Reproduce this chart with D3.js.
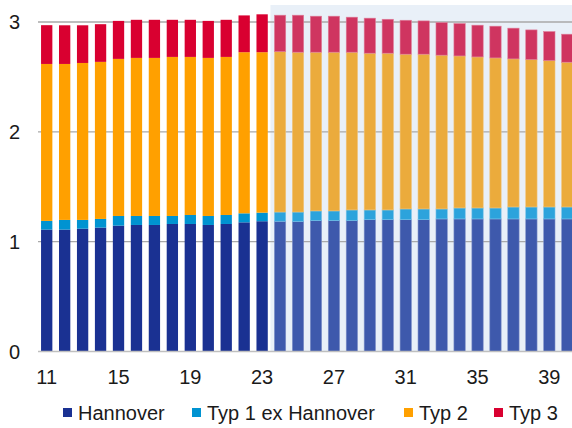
<!DOCTYPE html>
<html>
<head>
<meta charset="utf-8">
<script src="https://cdn.jsdelivr.net/npm/d3@7/dist/d3.min.js"></script>
<style>
  html, body { margin: 0; padding: 0; background: #ffffff; }
  svg { display: block; font-family: "Liberation Sans", Arial, sans-serif; }
</style>
</head>
<body>
<svg id="chart" width="572" height="428"></svg>
<script>
// Years (two-digit), 2011–2040
const years = ["11","12","13","14","15","16","17","18","19","20","21","22","23","24","25",
               "26","27","28","29","30","31","32","33","34","35","36","37","38","39","40"];

// Series values
const hannover = [1.110,1.110,1.118,1.128,1.146,1.152,1.152,1.161,1.161,1.152,1.161,1.176,1.186,1.186,1.183,
                  1.191,1.191,1.191,1.200,1.200,1.200,1.200,1.207,1.207,1.207,1.207,1.207,1.207,1.207,1.207];
const typ1ExHannover = [0.079,0.088,0.080,0.079,0.088,0.082,0.082,0.073,0.082,0.082,0.082,0.082,0.078,0.084,0.087,
                        0.089,0.089,0.098,0.089,0.089,0.098,0.098,0.091,0.100,0.100,0.100,0.109,0.109,0.109,0.109];
const typ2 = [1.429,1.420,1.429,1.430,1.430,1.439,1.439,1.448,1.439,1.439,1.439,1.467,1.461,1.460,1.455,
              1.445,1.445,1.436,1.427,1.427,1.409,1.409,1.400,1.384,1.375,1.366,1.348,1.342,1.333,1.318];
const typ3 = [0.353,0.352,0.343,0.343,0.346,0.347,0.347,0.338,0.338,0.337,0.338,0.335,0.345,0.332,0.337,
              0.328,0.328,0.319,0.319,0.309,0.309,0.303,0.297,0.295,0.289,0.289,0.280,0.270,0.264,0.255];

const seriesNames = ["Hannover", "Typ 1 ex Hannover", "Typ 2", "Typ 3"];
const firstForecastYear = "24";

const yTicks = [0, 1, 2, 3];
const xTickLabels = ["11","15","19","23","27","31","35","39"];

// Colours: actuals and the paler forecast shade
const colors     = ["#1a3192", "#0093d1", "#ffa000", "#d90030"];
const fadeColors = ["#3e59ac", "#2ca3dc", "#ebab3c", "#cf3560"];
const fadeEdges  = ["#7e90c8", "#79c3e8", "#f1c47a", "#df7e9a"];

const rows = years.map((yr, i) => ({
  year: yr,
  "Hannover": hannover[i],
  "Typ 1 ex Hannover": typ1ExHannover[i],
  "Typ 2": typ2[i],
  "Typ 3": typ3[i]
}));

const svg = d3.select("#chart");

const x = d3.scaleBand()
  .domain(years)
  .range([38, 576])
  .paddingInner(0.37)
  .paddingOuter(0.17);

const y = d3.scaleLinear()
  .domain([0, 3])
  .range([351.5, 22]);

const forecastIdx = years.indexOf(firstForecastYear);

// Forecast shading
const shadeX = x(firstForecastYear) - x.step() * 0.22;
svg.append("rect")
  .attr("x", shadeX)
  .attr("y", 5)
  .attr("width", 572 - shadeX)
  .attr("height", y(0) - 5)
  .attr("fill", "#e9f0f8");

// Gridlines
svg.append("g")
  .selectAll("line")
  .data(yTicks.filter(d => d > 0))
  .join("line")
  .attr("x1", 38)
  .attr("x2", 572)
  .attr("y1", d => y(d))
  .attr("y2", d => y(d))
  .attr("stroke", "#a9a9a9")
  .attr("stroke-width", 1.3);

// Stacked bars
const stacked = d3.stack().keys(seriesNames)(rows);

svg.append("g")
  .selectAll("g")
  .data(stacked)
  .join("g")
  .each(function(layer, li) {
    d3.select(this)
      .selectAll("rect")
      .data(layer)
      .join("rect")
      .attr("x", d => x(d.data.year))
      .attr("width", x.bandwidth())
      .attr("y", d => y(d[1]))
      .attr("height", d => y(d[0]) - y(d[1]))
      .attr("fill", (d, i) => i >= forecastIdx ? fadeColors[li] : colors[li])
      .attr("stroke", (d, i) => i >= forecastIdx ? fadeEdges[li] : "none")
      .attr("stroke-width", 0.6);
  });

// Baseline
svg.append("line")
  .attr("x1", 38)
  .attr("x2", 572)
  .attr("y1", y(0))
  .attr("y2", y(0))
  .attr("stroke", "#bfbfbf")
  .attr("stroke-width", 1.5);

// Y tick labels
svg.append("g")
  .selectAll("text")
  .data(yTicks)
  .join("text")
  .attr("x", 20)
  .attr("y", d => y(d) + 7)
  .attr("text-anchor", "end")
  .attr("font-size", 20)
  .attr("fill", "#1a1a1a")
  .text(d => d);

// X tick labels
svg.append("g")
  .selectAll("text")
  .data(xTickLabels)
  .join("text")
  .attr("x", d => x(d) + x.bandwidth() / 2)
  .attr("y", 384)
  .attr("text-anchor", "middle")
  .attr("font-size", 20)
  .attr("fill", "#1a1a1a")
  .text(d => d);

// Legend
const legendX = [63, 192, 404, 494];
const legend = svg.append("g")
  .selectAll("g")
  .data(seriesNames)
  .join("g")
  .attr("transform", (d, i) => `translate(${legendX[i]},0)`);

legend.append("rect")
  .attr("x", 0)
  .attr("y", 408)
  .attr("width", 9)
  .attr("height", 9)
  .attr("fill", (d, i) => colors[i]);

legend.append("text")
  .attr("x", 15)
  .attr("y", 420)
  .attr("font-size", 20)
  .attr("fill", "#1a1a1a")
  .text(d => d);
</script>
</body>
</html>
